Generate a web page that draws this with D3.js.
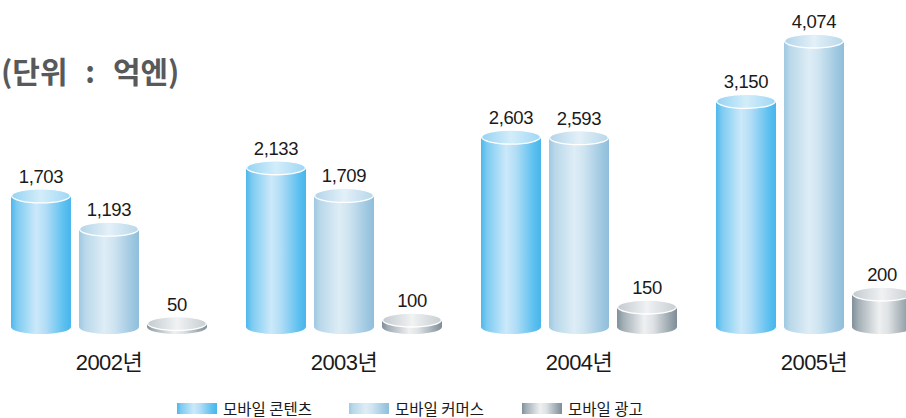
<!DOCTYPE html>
<html><head><meta charset="utf-8">
<script src="https://cdn.jsdelivr.net/npm/d3@7"></script>
<style>
html,body{margin:0;padding:0;background:#fff;overflow:hidden}
text{font-family:"Liberation Sans","Noto Sans CJK KR",sans-serif}
</style></head>
<body><svg id="c" width="906" height="418"></svg>
<script>
const years = ["2002년","2003년","2004년","2005년"];
const seriesNames = ["모바일 콘텐츠","모바일 커머스","모바일 광고"];
const contents = [1703, 2133, 2603, 3150];
const commerce = [1193, 1709, 2593, 4074];
const ads = [50, 100, 150, 200];
const title = "(단위 : 억엔)";

const seriesValues = [contents, commerce, ads];
const svg = d3.select("#c");
const defs = svg.append("defs");

const grads = [
  {body:[[0,"#4db7ec"],[0.1,"#7dcbf2"],[0.42,"#cbe9f9"],[0.58,"#b2ddf6"],[0.88,"#5cc0f0"],[1,"#48b5eb"]],
   top:[[0,"#96d3f2"],[0.5,"#d3edfa"],[1,"#9fd7f4"]]},
  {body:[[0,"#9fc8e1"],[0.1,"#b9d8ea"],[0.42,"#deedf6"],[0.58,"#cfe4f1"],[0.88,"#9fc8e1"],[1,"#8fbedb"]],
   top:[[0,"#b3d4e9"],[0.5,"#e3f0f8"],[1,"#b8d7ea"]]},
  {body:[[0,"#7f8f99"],[0.1,"#a2aeb5"],[0.45,"#eef0f1"],[0.6,"#dfe3e5"],[0.9,"#95a2aa"],[1,"#7d8c96"]],
   top:[[0,"#c3cacf"],[0.5,"#f0f2f3"],[1,"#c8ced2"]]}
];
grads.forEach((g,i)=>{
  ["body","top"].forEach(k=>{
    const lg = defs.append("linearGradient").attr("id",`g${i}${k}`)
      .attr("x1","0%").attr("x2","100%").attr("y1","0%").attr("y2","0%");
    g[k].forEach(s=>lg.append("stop").attr("offset",s[0]).attr("stop-color",s[1]));
  });
});

const x0 = d3.scaleBand().domain(years).range([11, 912]).paddingInner(0.166).paddingOuter(0);
const x1 = d3.scaleBand().domain(seriesNames).range([0, x0.bandwidth()]).paddingInner(0.118);
const y = d3.scaleLinear().domain([0, 100, 200, 4074]).range([327, 320, 294, 41]);
const ry = 7;

years.forEach((yr, gi)=>{
  seriesNames.forEach((sn, si)=>{
    const v = seriesValues[si][gi];
    const xl = x0(yr) + x1(sn), w = x1.bandwidth(), rx = w/2, cx = xl + rx;
    const yt = y(v), yb = y(0);
    const g = svg.append("g");
    g.append("path")
      .attr("d", `M${xl},${yt} L${xl},${yb} A${rx},${ry} 0 0 0 ${xl+w},${yb} L${xl+w},${yt} Z`)
      .attr("fill", `url(#g${si}body)`);
    g.append("ellipse").attr("cx",cx).attr("cy",yt).attr("rx",rx-0.6).attr("ry",ry)
      .attr("fill",`url(#g${si}top)`).attr("stroke","#ffffff").attr("stroke-width",1.3);
    g.append("text").attr("x",cx).attr("y",yt - ry - 6)
      .attr("text-anchor","middle").attr("font-size",18.5).attr("fill","#1a1a1a")
      .attr("letter-spacing","-0.4")
      .text(d3.format(",")(v));
  });
  svg.append("text").attr("x", x0(yr) + x0.bandwidth()/2).attr("y", 370)
    .attr("text-anchor","middle").attr("font-size",22).attr("fill","#1a1a1a")
    .attr("letter-spacing","-0.5").text(yr);
});

svg.append("text").attr("x",1).attr("y",83).attr("font-size",30).attr("font-weight","bold")
  .attr("word-spacing","11").attr("fill","#58595b")
  .style("font-family","'Noto Sans CJK KR',sans-serif").text(title);

const legendX = [177, 349, 522];
seriesNames.forEach((sn, i)=>{
  svg.append("rect").attr("x",legendX[i]).attr("y",403).attr("width",40).attr("height",11)
    .attr("fill",`url(#g${i}body)`);
  svg.append("text").attr("x",legendX[i]+46).attr("y",414.5).attr("font-size",15.5)
    .attr("fill","#1a1a1a").style("font-family","'Noto Sans CJK KR',sans-serif").text(sn);
});
</script></body></html>
